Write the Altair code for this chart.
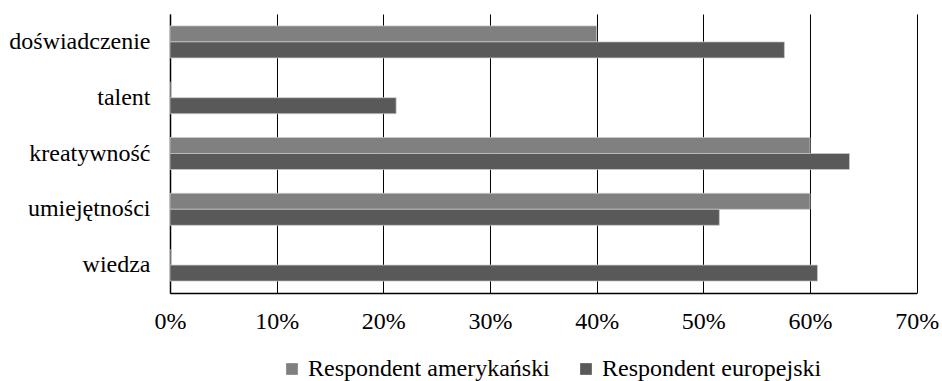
import altair as alt
import pandas as pd

categories = ["doświadczenie", "talent", "kreatywność", "umiejętności", "wiedza"]
series = ["Respondent amerykański", "Respondent europejski"]
american = [0.40, 0.0, 0.60, 0.60, 0.0]
european = [0.576, 0.212, 0.637, 0.515, 0.607]
colors = ["#808080", "#595959"]
ticks = [0.0, 0.1, 0.2, 0.3, 0.4, 0.5, 0.6, 0.7]

rows = []
for c, a, e in zip(categories, american, european):
    rows.append({"cat": c, "series": series[0], "value": a})
    rows.append({"cat": c, "series": series[1], "value": e})
df = pd.DataFrame(rows)

FONT = "Liberation Serif"
FS = 24

chart = alt.Chart(df).mark_bar(stroke="#c8c8c8", strokeWidth=0.75).encode(
    y=alt.Y("cat:N", sort=categories, title=None,
            scale=alt.Scale(paddingInner=0, paddingOuter=0),
            axis=alt.Axis(labelFont=FONT, labelFontSize=FS, labelColor="black",
                          labelPadding=20, ticks=False, domain=True, labelLimit=0,
                          domainColor="black", domainWidth=1.5, grid=False)),
    yOffset=alt.YOffset("series:N", sort=series,
                        scale=alt.Scale(paddingInner=0, paddingOuter=0.744)),
    x=alt.X("value:Q", title=None,
            scale=alt.Scale(domain=[0, 0.7], nice=False),
            axis=alt.Axis(values=ticks, format=".0%", labelFont=FONT, labelFontSize=FS,
                          labelColor="black", labelPadding=17, ticks=False,
                          domainColor="black", domainWidth=1.5,
                          grid=True, gridColor="black", gridWidth=1, gridOpacity=1,
                          labelFlush=False)),
    color=alt.Color("series:N", sort=series,
                    scale=alt.Scale(domain=series, range=colors),
                    legend=alt.Legend(title=None, orient="none", direction="horizontal",
                                      legendX=110, legendY=343,
                                      symbolType="square", symbolSize=137,
                                      symbolStrokeWidth=0, labelFont=FONT,
                                      labelFontSize=FS, labelColor="black", labelLimit=0,
                                      columnPadding=24, padding=0, labelOffset=4)),
).properties(
    width=746.7,
    height=279,
    autosize=alt.AutoSizeParams(type="none"),
    padding={"left": 170, "top": 14, "right": 25, "bottom": 88},
).configure_view(stroke=None)

chart.save("out.html", embed_options={"renderer": "svg", "actions": False})
